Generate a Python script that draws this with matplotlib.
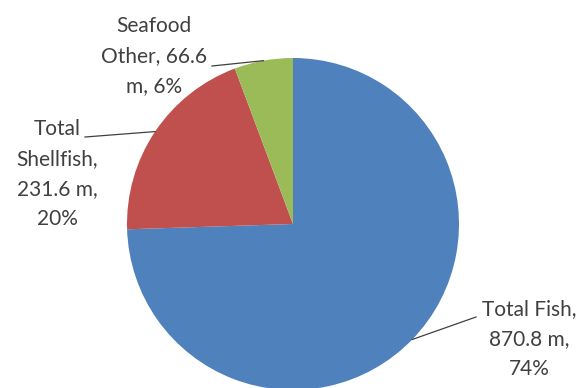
import numpy as np
import matplotlib
matplotlib.use("Agg")
import matplotlib.pyplot as plt

# --- DATA ---
categories = ["Total Fish", "Total Shellfish", "Seafood Other"]
values_m = [870.8, 231.6, 66.6]
percents = [74, 20, 6]
labels = ["Total Fish,\n870.8 m,\n74%",
          "Total\nShellfish,\n231.6 m,\n20%",
          "Seafood\nOther, 66.6\nm, 6%"]
colors = ["#4F81BD", "#C0504D", "#9BBB59"]

# label layout in pixel space (y up): text centre, leader line end
label_pos = [(529, 49), (57, 214), (154, 332)]
line_end = [(476, 71), (85, 251), (212, 322)]

fig = plt.figure(figsize=(5.82, 3.88), dpi=100)
ax = fig.add_axes([0, 0, 1, 1])

centre = (293, 164)
radius = 166
wedges, _ = ax.pie(values_m, colors=colors, startangle=90, counterclock=False,
                   center=centre, radius=radius, frame=True,
                   wedgeprops=dict(linewidth=0))
ax.set_xlim(0, 582)
ax.set_ylim(0, 388)
ax.set_aspect("equal")
ax.axis("off")

for w, lab, (tx, ty), (lx, ly) in zip(wedges, labels, label_pos, line_end):
    mid = np.deg2rad((w.theta1 + w.theta2) / 2)
    ex = centre[0] + radius * np.cos(mid)
    ey = centre[1] + radius * np.sin(mid)
    ax.plot([ex, lx], [ey, ly], color="#404040", lw=0.9)
    ax.text(tx, ty, lab, ha="center", va="center", fontsize=15,
            family="Lato", color="#404040", linespacing=1.62)

fig.savefig("out.png", dpi=100)
